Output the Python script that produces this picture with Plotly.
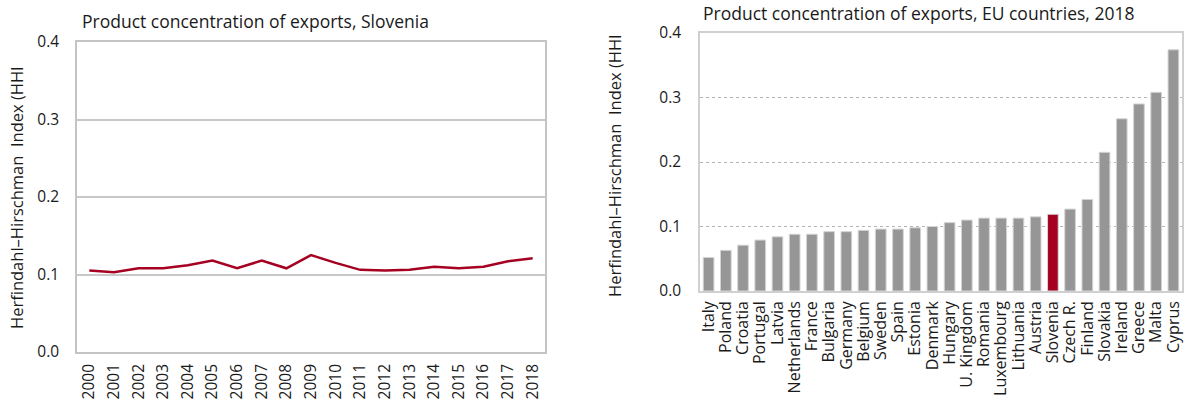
import plotly.graph_objects as go

# Podatki
years = [str(y) for y in range(2000, 2019)]
hhi_slovenia = [0.105, 0.103, 0.108, 0.108, 0.112, 0.118, 0.108, 0.118, 0.108, 0.125,
                0.115, 0.106, 0.105, 0.106, 0.110, 0.108, 0.110, 0.117, 0.121]

countries = ["Italy", "Poland", "Croatia", "Portugal", "Latvia", "Netherlands", "France",
             "Bulgaria", "Germany", "Belgium", "Sweden", "Spain", "Estonia", "Denmark",
             "Hungary", "U. Kingdom", "Romania", "Luxembourg", "Lithuania", "Austria",
             "Slovenia", "Czech R.", "Finland", "Slovakia", "Ireland", "Greece", "Malta",
             "Cyprus"]
hhi_eu_2018 = [0.052, 0.063, 0.071, 0.079, 0.084, 0.088, 0.088, 0.092, 0.092, 0.094,
               0.096, 0.096, 0.098, 0.100, 0.106, 0.110, 0.113, 0.113, 0.113, 0.115,
               0.119, 0.127, 0.142, 0.215, 0.267, 0.290, 0.308, 0.374]

y_title = "Herfindahl–Hirschman  Index (HHI"
RED = "#A50021"
GREY = "#969696"
FONT = "Open Sans"

W, H = 1185, 401


def px_x(p):
    return p / W


def px_y(p):
    return 1 - p / H


bar_colors = [RED if c == "Slovenia" else GREY for c in countries]

fig = go.Figure()

fig.add_trace(go.Scatter(
    x=years, y=hhi_slovenia, mode="lines",
    line=dict(color=RED, width=2.5),
    xaxis="x", yaxis="y", showlegend=False,
))

fig.add_trace(go.Bar(
    x=countries, y=hhi_eu_2018,
    marker=dict(color=bar_colors, line=dict(color="#D4D4D4", width=1)),
    xaxis="x2", yaxis="y2", showlegend=False,
))

tick_font = dict(family=FONT, size=15.5, color="#1a1a1a")

fig.update_layout(
    width=W, height=H,
    margin=dict(l=0, r=0, t=0, b=0),
    paper_bgcolor="white", plot_bgcolor="white",
    font=dict(family=FONT, color="#1a1a1a"),
    bargap=0.38,
    xaxis=dict(
        domain=[px_x(77), px_x(545)], anchor="y", type="category",
        range=[-0.5, len(years) - 0.5],
        tickmode="array", tickvals=years, ticktext=years,
        tickangle=-90, tickfont=tick_font, ticks="", ticklabelstandoff=4,
        showgrid=False, showline=True, linecolor="#C4C4C4", linewidth=1.5, mirror=True,
        automargin=False,
    ),
    yaxis=dict(
        domain=[px_y(352), px_y(42)], anchor="x", range=[0, 0.4], dtick=0.1, tickformat=".1f",
        tickfont=tick_font, ticks="", ticklabelstandoff=13,
        showgrid=True, gridcolor="#C8C8C8", gridwidth=1.5,
        showline=True, linecolor="#C4C4C4", linewidth=1.5, mirror=True,
        zeroline=False, automargin=False,
    ),
    xaxis2=dict(
        domain=[px_x(700), px_x(1182)], anchor="y2", type="category",
        range=[-0.5, len(countries) - 0.5],
        tickmode="array", tickvals=countries, ticktext=countries,
        tickangle=-90, tickfont=dict(family=FONT, size=16, color="#1a1a1a"), ticks="",
        ticklabelstandoff=2,
        showgrid=False, showline=True, linecolor="#D0D0D0", linewidth=1.5, mirror=True,
        automargin=False,
    ),
    yaxis2=dict(
        domain=[px_y(291), px_y(33)], anchor="x2", range=[0, 0.4], dtick=0.1, tickformat=".1f",
        tickfont=tick_font, ticks="", ticklabelstandoff=14,
        showgrid=True, gridcolor="#B4B4B4", gridwidth=1, griddash="dot",
        showline=True, linecolor="#D0D0D0", linewidth=1.5, mirror=True,
        zeroline=False, automargin=False,
    ),
    annotations=[
        dict(text="Product concentration of exports, Slovenia", xref="paper", yref="paper",
             x=px_x(80), y=px_y(21), xanchor="left", yanchor="middle", showarrow=False,
             font=dict(family=FONT, size=17.5)),
        dict(text="Product concentration of exports, EU countries, 2018", xref="paper", yref="paper",
             x=px_x(701), y=px_y(13), xanchor="left", yanchor="middle", showarrow=False,
             font=dict(family=FONT, size=17.5)),
        dict(text=y_title, xref="paper", yref="paper", textangle=-90,
             x=px_x(16), y=px_y(198), xanchor="center", yanchor="middle", showarrow=False,
             font=dict(family=FONT, size=16.5)),
        dict(text=y_title, xref="paper", yref="paper", textangle=-90,
             x=px_x(614), y=px_y(166), xanchor="center", yanchor="middle", showarrow=False,
             font=dict(family=FONT, size=16.5)),
    ],
)

# brez privzetega roba strani, da se slika ujema z oknom
fig.write_html(
    "out.html",
    config={"displayModeBar": False},
    post_script="document.body.style.margin='0';document.body.style.overflow='hidden';",
)
